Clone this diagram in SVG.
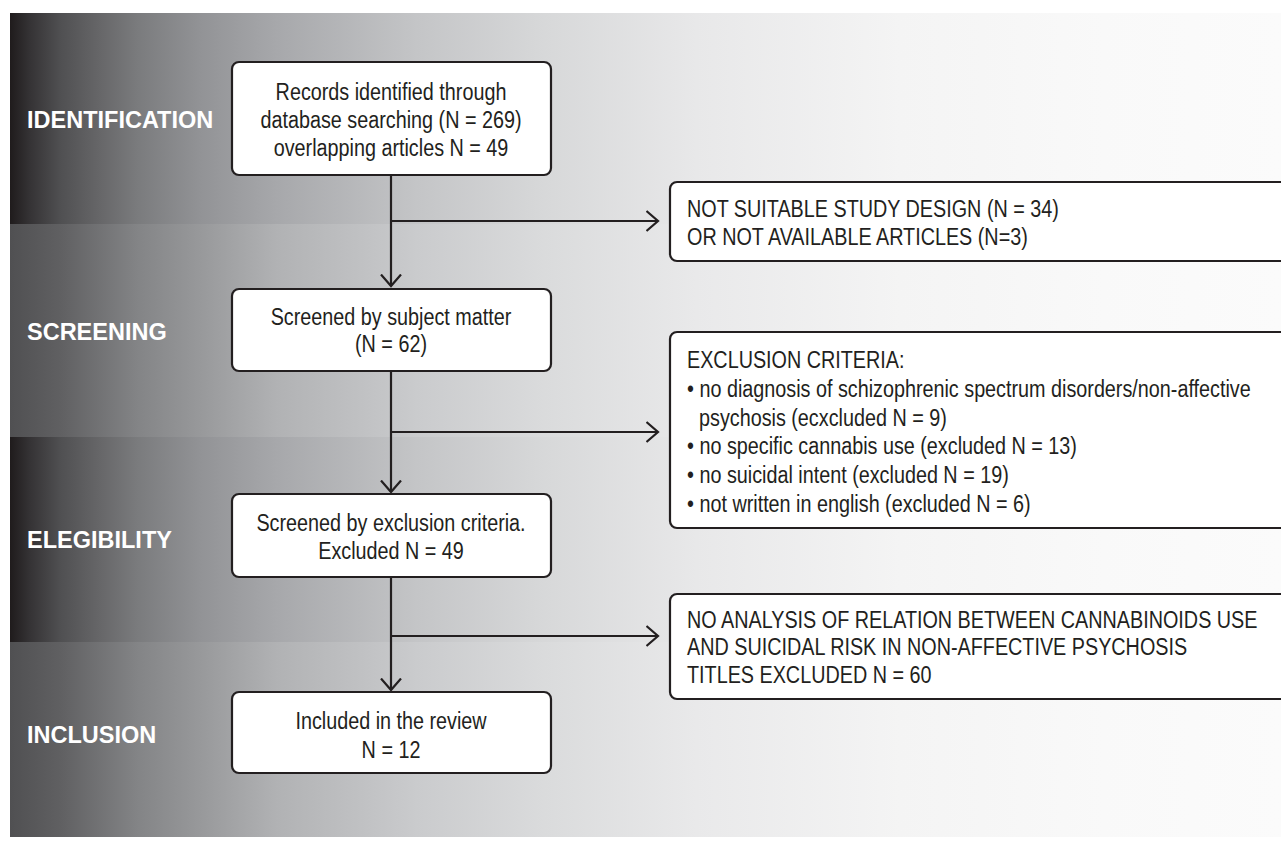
<svg xmlns="http://www.w3.org/2000/svg" width="1281" height="849" viewBox="0 0 1281 849">
<defs>
<linearGradient id="gDark" gradientUnits="userSpaceOnUse" x1="10" y1="0" x2="1281" y2="0">
<stop offset="0" stop-color="#1f1b1c"/>
<stop offset="0.015" stop-color="#343234"/>
<stop offset="0.04" stop-color="#505052"/>
<stop offset="0.07" stop-color="#666668"/>
<stop offset="0.1" stop-color="#7a7b7d"/>
<stop offset="0.15" stop-color="#929396"/>
<stop offset="0.21" stop-color="#a7a8ab"/>
<stop offset="0.32" stop-color="#c4c5c7"/>
<stop offset="0.42" stop-color="#d7d8d9"/>
<stop offset="0.54" stop-color="#e8e8e9"/>
<stop offset="0.7" stop-color="#f4f4f4"/>
<stop offset="0.86" stop-color="#f9f9f9"/>
<stop offset="1" stop-color="#fbfbfb"/>
</linearGradient>
<linearGradient id="gLight" gradientUnits="userSpaceOnUse" x1="10" y1="0" x2="1281" y2="0">
<stop offset="0" stop-color="#505052"/>
<stop offset="0.04" stop-color="#606062"/>
<stop offset="0.1" stop-color="#838486"/>
<stop offset="0.21" stop-color="#b1b2b4"/>
<stop offset="0.32" stop-color="#cacbcd"/>
<stop offset="0.42" stop-color="#dadbdc"/>
<stop offset="0.54" stop-color="#e9e9ea"/>
<stop offset="0.7" stop-color="#f4f4f4"/>
<stop offset="0.86" stop-color="#f9f9f9"/>
<stop offset="1" stop-color="#fbfbfb"/>
</linearGradient>
<marker id="arr" viewBox="0 0 14 22" refX="12.5" refY="11" markerWidth="14" markerHeight="22" orient="auto" markerUnits="userSpaceOnUse">
<path d="M1,1 L12.5,11 L1,21" fill="none" stroke="#231f20" stroke-width="2.2"/>
</marker>
<style>
.box{fill:#ffffff;stroke:#231f20;stroke-width:2.2}
.t{font-family:"Liberation Sans",Arial,sans-serif;fill:#231f20;font-size:23px}
.c{text-anchor:middle}
.lab{font-family:"Liberation Sans",Arial,sans-serif;font-weight:bold;fill:#ffffff;font-size:23.5px}
.ln{fill:none;stroke:#231f20;stroke-width:2.2}
</style>
</defs>
<rect x="0" y="0" width="1281" height="849" fill="#ffffff"/>
<g id="bands">
<rect x="10" y="13" width="1271" height="211" fill="url(#gDark)"/>
<rect x="10" y="224" width="1271" height="213" fill="url(#gLight)"/>
<rect x="10" y="437" width="1271" height="205" fill="url(#gDark)"/>
<rect x="10" y="642" width="1271" height="195" fill="url(#gLight)"/>
</g>
<g id="stage-labels">
<text class="lab" x="27" y="128">IDENTIFICATION</text>
<text class="lab" x="27" y="340">SCREENING</text>
<text class="lab" x="27" y="548">ELEGIBILITY</text>
<text class="lab" x="27" y="743">INCLUSION</text>
</g>
<g id="connectors">
<path class="ln" d="M391,175 V286" marker-end="url(#arr)"/>
<path class="ln" d="M391,221 H658" marker-end="url(#arr)"/>
<path class="ln" d="M391,371 V492" marker-end="url(#arr)"/>
<path class="ln" d="M391,432 H658" marker-end="url(#arr)"/>
<path class="ln" d="M391,577 V690" marker-end="url(#arr)"/>
<path class="ln" d="M391,636 H658" marker-end="url(#arr)"/>
</g>
<g id="node-records">
<rect class="box" x="232" y="62" width="319" height="113" rx="7"/>
<text class="t c" transform="translate(391,100) scale(0.86,1)">Records identified through</text>
<text class="t c" transform="translate(391,128) scale(0.86,1)">database searching (N = 269)</text>
<text class="t c" transform="translate(391,156) scale(0.86,1)">overlapping articles N = 49</text>
</g>
<g id="node-screened-subject">
<rect class="box" x="232" y="289" width="319" height="82" rx="7"/>
<text class="t c" transform="translate(391,325) scale(0.86,1)">Screened by subject matter</text>
<text class="t c" transform="translate(391,352) scale(0.86,1)">(N = 62)</text>
</g>
<g id="node-screened-exclusion">
<rect class="box" x="232" y="494" width="319" height="83" rx="7"/>
<text class="t c" transform="translate(391,531) scale(0.86,1)">Screened by exclusion criteria.</text>
<text class="t c" transform="translate(391,559) scale(0.86,1)">Excluded N = 49</text>
</g>
<g id="node-included">
<rect class="box" x="232" y="692" width="319" height="81" rx="7"/>
<text class="t c" transform="translate(391,729) scale(0.86,1)">Included in the review</text>
<text class="t c" transform="translate(391,758) scale(0.86,1)">N = 12</text>
</g>
<g id="node-not-suitable">
<rect class="box" x="670" y="182" width="630" height="79" rx="7"/>
<text class="t" transform="translate(687,217) scale(0.86,1)">NOT SUITABLE STUDY DESIGN (N = 34)</text>
<text class="t" transform="translate(687,245) scale(0.86,1)">OR NOT AVAILABLE ARTICLES (N=3)</text>
</g>
<g id="node-exclusion-criteria">
<rect class="box" x="670" y="332" width="630" height="196" rx="7"/>
<text class="t" transform="translate(687,368) scale(0.86,1)">EXCLUSION CRITERIA:</text>
<text class="t" transform="translate(687,397) scale(0.86,1)">• no diagnosis of schizophrenic spectrum disorders/non-affective</text>
<text class="t" transform="translate(699,426) scale(0.86,1)">psychosis (ecxcluded N = 9)</text>
<text class="t" transform="translate(687,454) scale(0.86,1)">• no specific cannabis use (excluded N = 13)</text>
<text class="t" transform="translate(687,483) scale(0.86,1)">• no suicidal intent (excluded N = 19)</text>
<text class="t" transform="translate(687,512) scale(0.86,1)">• not written in english (excluded N = 6)</text>
</g>
<g id="node-no-analysis">
<rect class="box" x="670" y="594" width="630" height="105" rx="7"/>
<text class="t" transform="translate(687,628) scale(0.86,1)">NO ANALYSIS OF RELATION BETWEEN CANNABINOIDS USE</text>
<text class="t" transform="translate(687,655) scale(0.86,1)">AND SUICIDAL RISK IN NON-AFFECTIVE PSYCHOSIS</text>
<text class="t" transform="translate(687,683) scale(0.86,1)">TITLES EXCLUDED N = 60</text>
</g>
</svg>
